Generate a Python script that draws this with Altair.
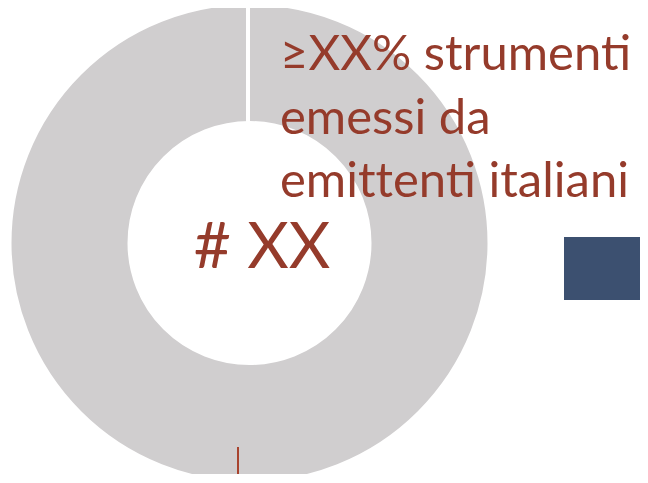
import altair as alt
import pandas as pd

categories = ["strumenti emessi da emittenti italiani"]
shares = [100]
center_label = ["# XX"]
side_label = [["≥XX% strumenti", "emessi da", "emit\u200ctenti italiani"]]

TEXT_COLOR = "#953B2B"
GRAY = "#D0CECF"
BLUE = "#3C5070"

df = pd.DataFrame({"category": categories, "share": shares})

donut = alt.Chart(df).mark_arc(
    stroke="white", strokeWidth=4, fill=GRAY
).encode(
    theta=alt.Theta("share:Q", stack=True),
    x=alt.value(241.5),
    y=alt.value(235),
    radius=alt.value(240),
    radius2=alt.value(120),
)

gap = alt.Chart(df).mark_rule(color="white", strokeWidth=4).encode(
    x=alt.value(240), y=alt.value(-5), y2=alt.value(116)
)

center = alt.Chart(pd.DataFrame({"t": center_label})).mark_text(
    font="Lato", fontSize=64, color=TEXT_COLOR, align="center", baseline="alphabetic"
).encode(text="t:N", x=alt.value(254), y=alt.value(260))

side = alt.Chart(pd.DataFrame({"t": side_label})).mark_text(
    font="Lato", fontSize=49, color=TEXT_COLOR, align="left", baseline="alphabetic",
    lineHeight=63.5
).encode(text="t", x=alt.value(272), y=alt.value(62))

square = alt.Chart(df).mark_rect(color=BLUE).encode(
    x=alt.value(556), x2=alt.value(650), y=alt.value(229), y2=alt.value(292)
)

leader = alt.Chart(df).mark_rule(color="#A8432E", strokeWidth=2).encode(
    x=alt.value(230), y=alt.value(439), y2=alt.value(480)
)

chart = alt.layer(donut, gap, center, side, square, leader).properties(
    width=632, height=466, padding=0, autosize=alt.AutoSizeParams(type="none")
).configure_view(stroke=None)

chart.save("out.html", embed_options={"renderer": "svg", "actions": False})
